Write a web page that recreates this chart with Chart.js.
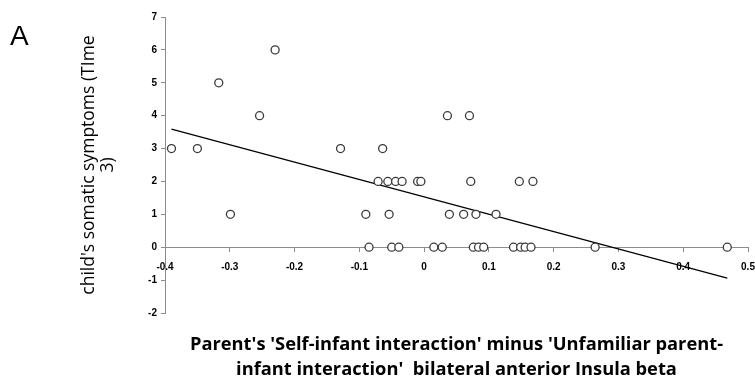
<!DOCTYPE html>
<html>
<head>
<meta charset="utf-8">
<script src="https://cdn.jsdelivr.net/npm/chart.js@4/dist/chart.umd.min.js"></script>
<style>
  html, body { margin: 0; padding: 0; background: #fff; }
  #wrap { width: 755px; height: 382px; position: relative; }
</style>
</head>
<body>
<div id="wrap"><canvas id="c" width="755" height="382"></canvas></div>
<script>
// ---- data ----
const xValues = [
  -0.230,
  -0.317,
  -0.254, 0.036, 0.070,
  -0.390, -0.350, -0.129, -0.064,
  -0.071, -0.056, -0.044, -0.034, -0.010, -0.005, 0.072, 0.147, 0.168,
  -0.299, -0.090, -0.054, 0.039, 0.061, 0.080, 0.111,
  -0.085, -0.050, -0.039, 0.015, 0.028, 0.076, 0.084, 0.092, 0.138, 0.149, 0.156, 0.165, 0.264, 0.468
];
const yValues = [
  6,
  5,
  4, 4, 4,
  3, 3, 3, 3,
  2, 2, 2, 2, 2, 2, 2, 2, 2,
  1, 1, 1, 1, 1, 1, 1,
  0, 0, 0, 0, 0, 0, 0, 0, 0, 0, 0, 0, 0, 0
];
const trendX = [-0.390, 0.468];
const trendY = [3.59, -0.94];
const xTickValues = [-0.4, -0.3, -0.2, -0.1, 0, 0.1, 0.2, 0.3, 0.4, 0.5];
const yTickValues = [-2, -1, 0, 1, 2, 3, 4, 5, 6, 7];
const xTitle = ["Parent's 'Self-infant interaction' minus 'Unfamiliar parent-", "infant interaction'  bilateral anterior Insula beta"];
const yTitle = ["child's somatic symptoms (TIme", "3)"];
const panelLabel = "A";

const points = xValues.map((x, i) => ({ x: x, y: yValues[i] }));
const trend = trendX.map((x, i) => ({ x: x, y: trendY[i] }));

const panelPlugin = {
  id: 'panel',
  afterDraw(chart) {
    const ctx = chart.ctx;
    ctx.save();
    ctx.fillStyle = '#000';
    ctx.font = '28px "Liberation Sans", Arial, sans-serif';
    ctx.textBaseline = 'alphabetic';
    ctx.fillText(panelLabel, 10, 45);
    ctx.restore();
  }
};

const tickFont = { family: '"Liberation Sans", Arial, sans-serif', size: 10, weight: 'bold' };

new Chart(document.getElementById('c'), {
  type: 'scatter',
  data: {
    datasets: [
      {
        type: 'line',
        data: trend,
        borderColor: '#000',
        borderWidth: 1.2,
        pointRadius: 0,
        fill: false,
        order: 2
      },
      {
        data: points,
        pointStyle: 'circle',
        pointRadius: 4,
        pointBorderWidth: 1.3,
        pointBorderColor: '#3a3a3a',
        pointBackgroundColor: '#fff',
        order: 1
      }
    ]
  },
  options: {
    responsive: false,
    animation: false,
    layout: { padding: { left: 80, right: 7, top: 17, bottom: 0 } },
    plugins: {
      legend: { display: false },
      tooltip: { enabled: false },
      title: {
        display: true,
        position: 'bottom',
        fullSize: false,
        text: xTitle,
        color: '#000',
        font: { family: '"Open Sans", "Liberation Sans", sans-serif', size: 18.3, weight: 'bold', lineHeight: 25 / 18.3 },
        padding: { top: 19, bottom: 0 }
      }
    },
    scales: {
      x: {
        type: 'linear',
        position: { y: 0 },
        min: -0.4,
        max: 0.5,
        afterBuildTicks(scale) { scale.ticks = xTickValues.map(v => ({ value: v })); },
        afterFit(scale) { scale.paddingLeft = 0; scale.paddingRight = 0; },
        border: { display: true, color: '#8c8c8c', width: 1 },
        grid: { display: true, drawOnChartArea: false, drawTicks: true, tickLength: 4, color: '#8c8c8c' },
        ticks: {
          color: '#000', font: tickFont, padding: 10, maxRotation: 0, autoSkip: false,
          callback: (v) => String(Math.round(v * 10) / 10)
        }
      },
      y: {
        type: 'linear',
        position: 'left',
        min: -2,
        max: 7,
        afterBuildTicks(scale) { scale.ticks = yTickValues.map(v => ({ value: v })); },
        afterFit(scale) { scale.width = 85; scale.paddingTop = 0; scale.paddingBottom = 0; },
        border: { display: true, color: '#8c8c8c', width: 1 },
        grid: { display: true, drawOnChartArea: false, drawTicks: true, tickLength: 4, color: '#8c8c8c' },
        ticks: { color: '#000', font: tickFont, padding: 4 },
        title: {
          display: true,
          text: yTitle,
          color: '#000',
          font: { family: '"Open Sans", "Liberation Sans", sans-serif', size: 17.5, lineHeight: 1.05 },
          padding: { top: 0, bottom: 0 }
        }
      }
    }
  },
  plugins: [panelPlugin]
});
</script>
</body>
</html>
